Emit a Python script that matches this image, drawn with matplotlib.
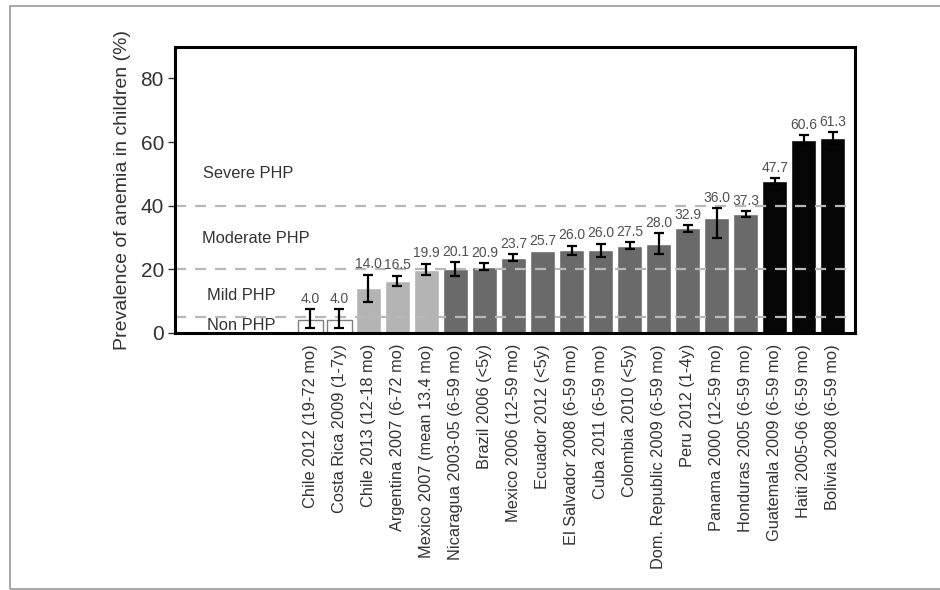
import matplotlib.pyplot as plt
from matplotlib.patches import Rectangle

import numpy as np

plt.rcParams['font.family'] = ['Liberation Sans', 'DejaVu Sans']

# Anaemia prevalence in children by survey, sorted low to high
surveys = ['Chile 2012 (19-72 mo)', 'Costa Rica 2009 (1-7y)', 'Chile 2013 (12-18 mo)',
           'Argentina 2007 (6-72 mo)', 'Mexico 2007 (mean 13.4 mo)',
           'Nicaragua 2003-05 (6-59 mo)', 'Brazil 2006 (<5y)', 'Mexico 2006 (12-59 mo)',
           'Ecuador 2012 (<5y)', 'El Salvador 2008 (6-59 mo)', 'Cuba 2011 (6-59 mo)',
           'Colombia 2010 (<5y)', 'Dom. Republic 2009 (6-59 mo)', 'Peru 2012 (1-4y)',
           'Panama 2000 (12-59 mo)', 'Honduras 2005 (6-59 mo)', 'Guatemala 2009 (6-59 mo)',
           'Haiti 2005-06 (6-59 mo)', 'Bolivia 2008 (6-59 mo)']
prevalence = [4.0, 4.0, 14.0, 16.5, 19.9, 20.1, 20.9, 23.7, 25.7, 26.0,
              26.0, 27.5, 28.0, 32.9, 36.0, 37.3, 47.7, 60.6, 61.3]
err_low = [2.3, 2.3, 4.2, 1.6, 1.8, 2.2, 1.1, 1.0, 0.0, 1.5,
           2.0, 1.1, 3.3, 1.0, 6.0, 0.9, 0.9, 1.5, 1.8]
err_high = [3.4, 3.4, 4.3, 1.5, 1.8, 2.2, 1.1, 1.0, 0.0, 1.5,
            2.0, 1.1, 3.3, 1.0, 3.2, 0.9, 0.9, 1.5, 1.8]

# Public health problem (PHP) cut-offs and their labels
php_cutoffs = [5, 20, 40]
php_labels = ['Non PHP', 'Mild PHP', 'Moderate PHP', 'Severe PHP']
php_label_y = [2.2, 11.7, 29.8, 50.0]

#------------------------------------------------------------------------------
def php_colour(value: float) -> str:
    # white -> light grey -> dark grey -> black as severity goes up
    if value < php_cutoffs[0]:
        return 'white'
    if value < php_cutoffs[1]:
        return '#b4b4b4'
    if value < php_cutoffs[2]:
        return '#6a6a6a'
    return '#050505'

#------------------------------------------------------------------------------
def main() -> None:
    fig = plt.figure(figsize=(9.4, 5.9), dpi=100)
    ax = fig.add_axes([0.1862, 0.4356, 0.7234, 0.4853])

    x = np.arange(len(prevalence))
    colours = [php_colour(v) for v in prevalence]
    edges = ['#808080' if c == 'white' else 'white' for c in colours]

    ax.bar(x, prevalence, width=0.86, color=colours, edgecolor=edges,
           linewidth=1.0, zorder=2)

    # Cut-off lines sit on top of the bars
    for cut in php_cutoffs:
        ax.axhline(cut, color='#b8b8b8', linestyle=(0, (5, 4)), linewidth=1.6, zorder=3)

    has_err = [lo > 0 or hi > 0 for lo, hi in zip(err_low, err_high)]
    ex = x[has_err]
    ey = np.array(prevalence)[has_err]
    elo = np.array(err_low)[has_err]
    ehi = np.array(err_high)[has_err]
    ax.errorbar(ex, ey, yerr=[elo, ehi], fmt='none', ecolor='black',
                elinewidth=1.6, capsize=3.5, capthick=1.6, zorder=4)

    for xi, v, hi in zip(x, prevalence, err_high):
        ax.annotate(f'{v:.1f}', (xi, v + hi), xytext=(0, 2.5), textcoords='offset points',
                    ha='center', va='bottom', fontsize=10, color='#505050', zorder=5)

    # class names down the left of the plot
    label_x = [-3.55, -3.55, -3.73, -3.68]
    for label, lx, ly in zip(php_labels, label_x, php_label_y):
        ax.text(lx, ly, label, fontsize=11.8, color='#333333', ha='left', va='center',
                zorder=1)

    ax.set_xlim(-4.65, 18.76)
    ax.set_ylim(0, 90)
    ax.set_yticks(range(0, 90, 20))
    ax.set_xticks(x)
    ax.set_xticklabels(surveys, rotation=90, fontsize=11.8, color='#333333')
    ax.tick_params(axis='y', labelsize=15, colors='#333333', length=5, width=1,
                   direction='out', pad=3)
    ax.tick_params(axis='x', length=3, width=1, direction='in', color='#999999', pad=8)
    ax.set_ylabel('Prevalence of anemia in children (%)', fontsize=14, color='#333333',
                  labelpad=7)

    for spine in ax.spines.values():
        spine.set_linewidth(2.2)
        spine.set_color('black')
        spine.set_zorder(6)

    # thin grey frame round the whole figure
    fig.add_artist(Rectangle((10 / 940, 1 / 590), 1.0, 1 - 7 / 590,
                             transform=fig.transFigure, fill=False,
                             edgecolor='#9a9a9a', linewidth=1.2))

    fig.savefig('out.png', dpi=100)

#------------------------------------------------------------------------------
if __name__ == '__main__':
    main()
